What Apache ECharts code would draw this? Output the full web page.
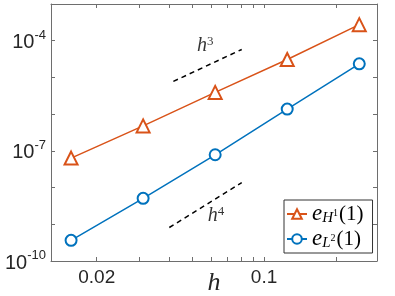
<!DOCTYPE html>
<html><head><meta charset="utf-8">
<script src="https://cdn.jsdelivr.net/npm/echarts@6/dist/echarts.min.js"></script>
<style>html,body{margin:0;padding:0;background:#fff}#c{width:395px;height:296px}</style>
</head><body><div id="c"></div>
<script>
// ---- data ----
const hValues = [1/64, 1/32, 1/16, 1/8, 1/4];
const errH1 = [6.35e-8, 4.79e-7, 3.91e-6, 3.08e-5, 2.74e-4];
const errL2 = [3.66e-10, 5.09e-9, 7.82e-8, 1.37e-6, 2.34e-5];
const refH3x = [0.0418, 0.0807];
const refH3y = [7.8e-6, 5.78e-5];
const refH4x = [0.0402, 0.0807];
const refH4y = [8.17e-10, 1.37e-8];
const refH3Label = [0.0568, 7.43e-5];
const refH4Label = [0.063, 1.74e-9];
const xTickValues = [0.02, 0.03, 0.04, 0.05, 0.06, 0.07, 0.08, 0.09, 0.1, 0.2];
const xLabelValues = [0.02, 0.1];
const xLabelTexts = ['0.02', '0.1'];
const yLabelExps = [-10, -7, -4];
const xRange = [0.01288, 0.2965];
const yRangeExp = [-10, -3];

const L = Math.log10;
const toPts = (xs, ys) => xs.map((x, i) => [L(x), L(ys[i])]);
const orange = '#D95319', blue = '#0072BD';
const axisColor = '#6e6e6e';
const labelColor = '#262626';

const xTicksLog = xTickValues.map(L);
const xAxisCommon = {
  type: 'value', min: L(xRange[0]), max: L(xRange[1]),
  axisLine: {show: true, onZero: false, lineStyle: {color: axisColor, width: 1}},
  axisTick: {show: true, inside: true, length: 4, customValues: xTicksLog, lineStyle: {color: axisColor}},
  splitLine: {show: false}
};
const yAxisCommon = {
  type: 'value', min: yRangeExp[0], max: yRangeExp[1], interval: 1,
  axisLine: {show: true, onZero: false, lineStyle: {color: axisColor, width: 1}},
  axisTick: {show: true, inside: true, length: 4, lineStyle: {color: axisColor}},
  splitLine: {show: false}
};

const serif = "'Liberation Serif', 'DejaVu Serif', serif";
const sans = "'Liberation Sans', Arial, sans-serif";

const option = {
  animation: false,
  backgroundColor: '#fff',
  grid: {left: 51, right: 18, top: 4, bottom: 35, containLabel: false, outerBoundsMode: 'none'},
  xAxis: [
    Object.assign({}, xAxisCommon, {
      position: 'bottom',
      name: 'h', nameLocation: 'middle', nameGap: 9, nameMoveOverlap: false,
      nameTextStyle: {fontFamily: serif, fontStyle: 'italic', fontSize: 26, color: labelColor},
      axisLabel: {
        show: true, margin: 7, customValues: xLabelValues.map(L),
        fontFamily: sans, fontSize: 19, color: labelColor,
        formatter: v => {
          for (let i = 0; i < xLabelValues.length; i++) if (Math.abs(L(xLabelValues[i]) - v) < 1e-6) return xLabelTexts[i];
          return '';
        }
      }
    }),
    Object.assign({}, xAxisCommon, {position: 'top', axisLabel: {show: false}})
  ],
  yAxis: [
    Object.assign({}, yAxisCommon, {
      position: 'left',
      axisLabel: {
        show: true, margin: 5, customValues: yLabelExps,
        formatter: v => '{b|10}{s|' + Math.round(v) + '}',
        rich: {
          b: {fontFamily: sans, fontSize: 20, color: labelColor, lineHeight: 24, verticalAlign: 'bottom'},
          s: {fontFamily: sans, fontSize: 13, color: labelColor, lineHeight: 14, verticalAlign: 'top'}
        }
      }
    }),
    Object.assign({}, yAxisCommon, {position: 'right', axisLabel: {show: false}})
  ],
  legend: {
    data: ['eH1', 'eL2'],
    orient: 'vertical', left: 284, top: 200,
    backgroundColor: '#fff', borderColor: '#333', borderWidth: 1, borderRadius: 0,
    padding: [2, 9, 2, 2], itemGap: 1, itemWidth: 20, itemHeight: 12,
    formatter: name => name === 'eH1' ? '{e|e}{sb|H}{sp|1}{p|(1)}' : '{e|e}{sb|L}{sp|2}{p|(1)}',
    textStyle: {
      rich: {
        e: {fontFamily: serif, fontStyle: 'italic', fontSize: 23, color: '#000', lineHeight: 24, verticalAlign: 'middle'},
        sb: {fontFamily: serif, fontStyle: 'italic', fontSize: 15, color: '#000', lineHeight: 15, padding: [9, 0, 0, 0], verticalAlign: 'bottom'},
        sp: {fontFamily: serif, fontSize: 10, color: '#000', lineHeight: 10, padding: [0, 1, 8, 0], verticalAlign: 'bottom'},
        p: {fontFamily: serif, fontSize: 21, color: '#000', lineHeight: 24, verticalAlign: 'middle'}
      }
    }
  },
  series: [
    {
      name: 'eH1', type: 'line', xAxisIndex: 0, yAxisIndex: 0,
      data: toPts(hValues, errH1),
      symbol: 'emptyTriangle', symbolSize: 13,
      itemStyle: {color: orange, borderWidth: 1.5},
      lineStyle: {color: orange, width: 1.5}
    },
    {
      name: 'eL2', type: 'line', xAxisIndex: 0, yAxisIndex: 0,
      data: toPts(hValues, errL2),
      symbol: 'emptyCircle', symbolSize: 11,
      itemStyle: {color: blue, borderWidth: 1.5},
      lineStyle: {color: blue, width: 1.5}
    },
    {
      name: 'refH3', type: 'line', data: toPts(refH3x, refH3y), symbol: 'none', silent: true,
      lineStyle: {color: '#000', width: 1.5, type: [5, 4]}
    },
    {
      name: 'refH4', type: 'line', data: toPts(refH4x, refH4y), symbol: 'none', silent: true,
      lineStyle: {color: '#000', width: 1.5, type: [5, 4]}
    },
    {
      name: 'labels', type: 'scatter', silent: true, symbolSize: 0,
      data: [
        {value: [L(refH3Label[0]), L(refH3Label[1])], label: {formatter: '{h|h}{s|3}'}},
        {value: [L(refH4Label[0]), L(refH4Label[1])], label: {formatter: '{h|h}{s|4}'}}
      ],
      label: {
        show: true, position: 'inside',
        rich: {
          h: {fontFamily: serif, fontStyle: 'italic', fontSize: 20, color: '#000', lineHeight: 20, verticalAlign: 'bottom'},
          s: {fontFamily: serif, fontSize: 13, color: '#000', lineHeight: 12, verticalAlign: 'top'}
        }
      }
    }
  ]
};
const chart = echarts.init(document.getElementById('c'), null, {renderer: 'canvas'});
chart.setOption(option);
</script>
</body></html>
